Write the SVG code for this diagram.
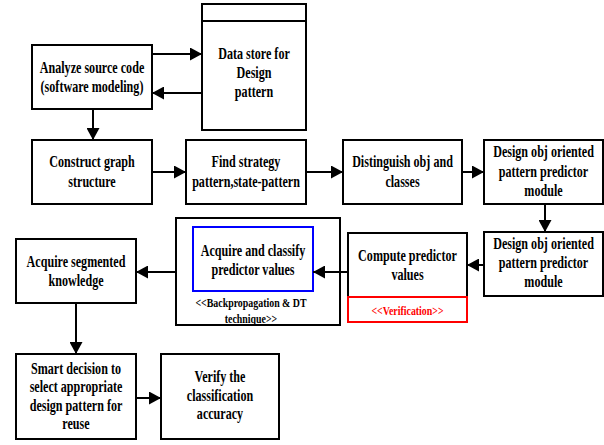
<svg xmlns="http://www.w3.org/2000/svg" width="604" height="445" viewBox="0 0 604 445">
<style>
.box{fill:#fff;stroke:#000;stroke-width:2}
.t{font-family:"Liberation Serif","Times New Roman",serif;font-weight:bold;font-size:16.5px;text-anchor:middle;fill:#000}
.s{font-family:"Liberation Serif","Times New Roman",serif;font-weight:bold;font-size:13.5px;text-anchor:middle;fill:#000}
.c{stroke:#000;stroke-width:2;fill:none;marker-end:url(#ah)}
</style>
<defs>
<marker id="ah" markerUnits="userSpaceOnUse" markerWidth="13" markerHeight="13" refX="12" refY="6.5" orient="auto">
<path d="M0,0 L12,6.5 L0,13 z" fill="#000"/>
</marker>
</defs>
<rect width="604" height="445" fill="#fff"/>

<g id="analyze">
<rect class="box" x="32" y="45" width="120" height="64"/>
<g transform="translate(92 0) scale(0.733 1)"><text class="t" x="0" y="73">Analyze source code</text><text class="t" x="0" y="92">(software modeling)</text></g>
</g>

<g id="datastore">
<rect class="box" x="202" y="4" width="104" height="126"/>
<line x1="202" y1="21" x2="306" y2="21" stroke="#000" stroke-width="2"/>
<g transform="translate(254 0) scale(0.733 1)"><text class="t" x="0" y="59">Data store for</text><text class="t" x="0" y="78">Design</text><text class="t" x="0" y="97">pattern</text></g>
</g>

<g id="construct">
<rect class="box" x="32" y="140" width="120" height="64"/>
<g transform="translate(92 0) scale(0.733 1)"><text class="t" x="0" y="167">Construct graph</text><text class="t" x="0" y="187">structure</text></g>
</g>

<g id="findstrategy">
<rect class="box" x="186" y="140" width="120" height="64"/>
<g transform="translate(246 0) scale(0.733 1)"><text class="t" x="0" y="167">Find strategy</text><text class="t" x="0" y="187">pattern,state-pattern</text></g>
</g>

<g id="distinguish">
<rect class="box" x="343" y="140" width="119" height="64"/>
<g transform="translate(402.5 0) scale(0.733 1)"><text class="t" x="0" y="167">Distinguish obj and</text><text class="t" x="0" y="187">classes</text></g>
</g>

<g id="designobj1">
<rect class="box" x="484" y="140" width="119" height="64"/>
<g transform="translate(543.5 0) scale(0.733 1)"><text class="t" x="0" y="157">Design obj oriented</text><text class="t" x="0" y="177">pattern predictor</text><text class="t" x="0" y="196">module</text></g>
</g>

<g id="designobj2">
<rect class="box" x="484" y="232" width="119" height="64"/>
<g transform="translate(543.5 0) scale(0.733 1)"><text class="t" x="0" y="249">Design obj oriented</text><text class="t" x="0" y="268">pattern predictor</text><text class="t" x="0" y="287">module</text></g>
</g>

<g id="compute">
<rect class="box" x="348" y="233" width="119" height="64"/>
<rect x="348" y="297" width="119" height="25" fill="#fff" stroke="#f00" stroke-width="2"/>
<g transform="translate(407.5 0) scale(0.733 1)"><text class="t" x="0" y="261">Compute predictor</text><text class="t" x="0" y="280">values</text><text class="s" x="0" y="315" style="fill:#f00">&lt;&lt;Verification&gt;&gt;</text></g>
</g>

<g id="classify">
<rect class="box" x="176" y="218" width="164" height="107"/>
<rect x="193" y="227" width="120" height="64" fill="#fff" stroke="#00f" stroke-width="2"/>
<g transform="translate(253 0) scale(0.733 1)"><text class="t" x="0" y="256">Acquire and classify</text><text class="t" x="0" y="275">predictor values</text></g>
<g transform="translate(251 0) scale(0.733 1)"><text class="s" x="0" y="307">&lt;&lt;Backpropagation &amp; DT</text><text class="s" x="0" y="323">technique&gt;&gt;</text></g>
</g>

<g id="segmented">
<rect class="box" x="16" y="239" width="120" height="64"/>
<g transform="translate(76 0) scale(0.733 1)"><text class="t" x="0" y="267">Acquire segmented</text><text class="t" x="0" y="286">knowledge</text></g>
</g>

<g id="smart">
<rect class="box" x="16" y="354" width="120" height="85"/>
<g transform="translate(76 0) scale(0.733 1)"><text class="t" x="0" y="374">Smart decision to</text><text class="t" x="0" y="392">select appropriate</text><text class="t" x="0" y="411">design pattern for</text><text class="t" x="0" y="429">reuse</text></g>
</g>

<g id="verify">
<rect class="box" x="161" y="354" width="118" height="85"/>
<g transform="translate(220 0) scale(0.733 1)"><text class="t" x="0" y="382">Verify the</text><text class="t" x="0" y="401">classification</text><text class="t" x="0" y="419">accuracy</text></g>
</g>

<g id="connectors">
<line class="c" x1="152" y1="54" x2="202" y2="54"/>
<line class="c" x1="202" y1="93" x2="152" y2="93"/>
<line class="c" x1="93" y1="109" x2="93" y2="140"/>
<line class="c" x1="152" y1="172" x2="186" y2="172"/>
<line class="c" x1="306" y1="172" x2="343" y2="172"/>
<line class="c" x1="462" y1="172" x2="484" y2="172"/>
<line class="c" x1="545" y1="204" x2="545" y2="232"/>
<line class="c" x1="484" y1="265" x2="467" y2="265"/>
<line class="c" x1="348" y1="272" x2="313" y2="272"/>
<line class="c" x1="176" y1="272" x2="136" y2="272"/>
<line class="c" x1="76" y1="303" x2="76" y2="354"/>
<line class="c" x1="136" y1="398" x2="161" y2="398"/>
</g>
</svg>
